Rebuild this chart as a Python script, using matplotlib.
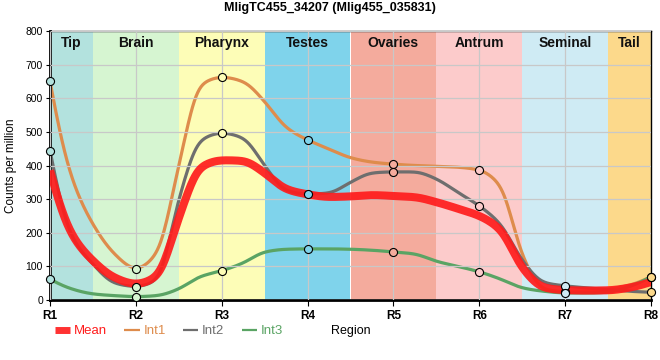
# -*- coding: utf-8 -*-
"""
Expression profile of MligTC455_34207 along the body regions
"""
# =============================     Import modules     =====================
import numpy as np
import matplotlib
matplotlib.use('Agg')
import matplotlib.pyplot as plt
from matplotlib.lines import Line2D

plt.rcParams['font.family'] = ['Liberation Sans', 'DejaVu Sans']

# =============================     Data     ================================
regions = ['R1', 'R2', 'R3', 'R4', 'R5', 'R6', 'R7', 'R8']
tissues = ['Tip', 'Brain', 'Pharynx', 'Testes', 'Ovaries', 'Antrum',
           'Seminal', 'Tail']
tissue_colors = ['#b3e2de', '#d6f5d1', '#fdfdb7', '#7fd3eb',
                 '#f4ab9d', '#fccbcb', '#cfebf4', '#fcd98b']

# -- curve readings at quarter steps between regions (counts per million)
pos = np.arange(1, 8.01, 0.25)
int1 = [650, 365, 225, 137, 92, 140, 400, 640,
        663, 650, 590, 513, 476, 449, 423, 410,
        404, 400, 398, 395, 387, 340, 133, 32,
        25, 27, 32, 44, 69]
int2 = [444, 190, 107, 50, 40, 60, 300, 475,
        497, 482, 400, 325, 315, 318, 350, 378,
        381, 381, 360, 320, 280, 225, 118, 52,
        42, 36, 31, 26, 23]
int3 = [62, 33, 18, 13, 10, 13, 33, 70,
        87, 110, 143, 151, 152, 152, 151, 148,
        143, 137, 115, 100, 84, 62, 36, 26,
        21, 21, 23, 40, 69]

series = {'Int1': int1, 'Int2': int2, 'Int3': int3}
colors = {'Mean': '#ff1c1c', 'Int1': '#de8c4c', 'Int2': '#6e6e6e',
          'Int3': '#5aa464'}


# -- pchip --> monotone cubic used to draw the smooth curves
def pchip(x, y, xs):
    x = np.asarray(x, float)
    y = np.asarray(y, float)
    h = np.diff(x)
    d = np.diff(y) / h
    m = np.zeros_like(y)
    for k in range(1, len(x) - 1):
        if d[k - 1] * d[k] > 0:
            w1 = 2 * h[k] + h[k - 1]
            w2 = h[k] + 2 * h[k - 1]
            m[k] = (w1 + w2) / (w1 / d[k - 1] + w2 / d[k])
    for k, (d0, d1, h0, h1) in ((0, (d[0], d[1], h[0], h[1])),
                                (-1, (d[-1], d[-2], h[-1], h[-2]))):
        mk = ((2 * h0 + h1) * d0 - h0 * d1) / (h0 + h1)
        if np.sign(mk) != np.sign(d0):
            mk = 0.0
        elif np.sign(d0) != np.sign(d1) and abs(mk) > 3 * abs(d0):
            mk = 3 * d0
        m[k] = mk
    i = np.clip(np.searchsorted(x, xs) - 1, 0, len(x) - 2)
    t = (xs - x[i]) / h[i]
    h00 = 2 * t**3 - 3 * t**2 + 1
    h10 = t**3 - 2 * t**2 + t
    h01 = -2 * t**3 + 3 * t**2
    h11 = t**3 - t**2
    return h00 * y[i] + h10 * h[i] * m[i] + h01 * y[i + 1] + h11 * h[i] * m[i + 1]


# -- smooth_curve --> pchip curve softened with a small gaussian kernel
def smooth_curve(x, y, xs, sigma=0.06):
    ys = pchip(x, y, xs)
    dx = xs[1] - xs[0]
    n = int(3 * sigma / dx)
    kern = np.exp(-0.5 * (np.arange(-n, n + 1) * dx / sigma) ** 2)
    kern /= kern.sum()
    ypad = np.pad(ys, n, mode='reflect', reflect_type='odd')
    return np.convolve(ypad, kern, mode='valid')


# =============================     Plot     ================================
fig = plt.figure(figsize=(6.6, 3.6), dpi=100)
ax = fig.add_axes([50 / 660, 1 - 300 / 360, 601 / 660, 269 / 360])

# -- tissue bands
for k, (name, clr) in enumerate(zip(tissues, tissue_colors)):
    x0 = max(1, k + 0.5)
    x1 = min(8, k + 1.5)
    ax.axvspan(x0, x1, color=clr, lw=0, zorder=0)
    ax.text((x0 + x1) / 2, 786, name, ha='center', va='top',
            fontsize=10, fontweight='bold', color='#111111', zorder=5)

xs = np.linspace(1, 8, 701)
for name, vals in series.items():
    ax.plot(xs, smooth_curve(pos, vals, xs), color=colors[name], lw=2.3,
            solid_capstyle='butt', zorder=2)
mean = (np.array(int1) + np.array(int2) + np.array(int3)) / 3
ax.plot(xs, smooth_curve(pos, mean, xs), color=colors['Mean'], lw=5.8,
        alpha=0.92, solid_capstyle='butt', zorder=3)
# -- markers at the regions, filled with the band colour
for name, vals in series.items():
    for k, v in enumerate(np.array(vals)[::4]):
        ax.plot(pos[4 * k], v, ls='none', marker='o', ms=5.8,
                mfc=tissue_colors[k], mec='black', mew=0.8, zorder=4,
                clip_on=False)

# -- axes settings
ax.set_xlim(1, 8)
ax.set_ylim(0, 800)
ax.set_xticks(range(1, 9))
ax.set_xticklabels(regions, fontsize=8.5, fontweight='bold')
ax.set_yticks(range(0, 801, 100))
ax.tick_params(axis='y', labelsize=7.5, length=3, pad=2)
ax.tick_params(axis='x', length=4, pad=3)
ax.grid(True, color='#c8c8c8', lw=0.9, zorder=1)
ax.set_axisbelow(False)
for g in ax.get_xgridlines() + ax.get_ygridlines():
    g.set_zorder(1)
ax.spines['left'].set_linewidth(2)
ax.spines['bottom'].set_linewidth(2)
ax.spines['top'].set_linewidth(1)
ax.spines['right'].set_linewidth(1)
ax.set_ylabel('Counts per million', fontsize=8.5, labelpad=6)
fig.text(0.5, 1 - 8 / 360, 'MligTC455_34207 (Mlig455_035831)', ha='center',
         va='center', fontsize=9, fontweight='bold')

# -- legend
handles = [Line2D([], [], color=colors['Mean'], lw=5, alpha=0.9,
                  solid_capstyle='butt'),
           Line2D([], [], color=colors['Int1'], lw=1.6, solid_capstyle='butt'),
           Line2D([], [], color=colors['Int2'], lw=1.6, solid_capstyle='butt'),
           Line2D([], [], color=colors['Int3'], lw=1.6, solid_capstyle='butt')]
fig.legend(handles, ['Mean', 'Int1', 'Int2', 'Int3'], loc='center left',
           bbox_to_anchor=(55 / 660, 1 - 331 / 360), ncol=4, frameon=False,
           fontsize=9.5, labelcolor='linecolor', handlelength=1.15,
           handletextpad=0.3, columnspacing=1.3, borderaxespad=0,
           borderpad=0)
fig.text(331 / 660, 1 - 331 / 360, 'Region', ha='left', va='center',
         fontsize=9)

plt.savefig('out.png', dpi=100)
plt.close(fig)
